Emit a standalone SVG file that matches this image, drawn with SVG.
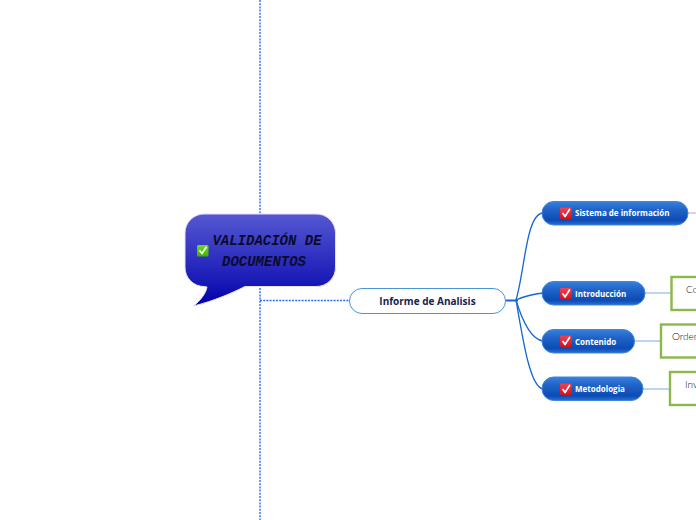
<svg xmlns="http://www.w3.org/2000/svg" width="696" height="520" viewBox="0 0 696 520">
<style>
.dot{fill:none;stroke:#2a6af0;stroke-width:1.4;stroke-dasharray:2 1.2}
.br{fill:none;stroke:#1565d8;stroke-width:1.3}
.lf{fill:none;stroke:#a9c6f2;stroke-width:1.5}
.pill{fill:url(#blue);stroke:#3f86dc;stroke-width:1}
.t{font-family:"Open Sans","Noto Sans",sans-serif;font-weight:700;font-size:8px;fill:#fff}
.box{fill:#fff;stroke:#8cb84a;stroke-width:2.4}
.s{font-family:"Lato","Open Sans",sans-serif;font-weight:300;font-size:10px;fill:#111}
.red{fill:url(#red)}
.tick{fill:none;stroke:#fff;stroke-width:1.7;stroke-linecap:round;stroke-linejoin:round}
</style>
<defs>
<linearGradient id="blue" x1="0" y1="0" x2="0" y2="1"><stop offset="0" stop-color="#3a80dc"/><stop offset=".35" stop-color="#1f63c8"/><stop offset=".8" stop-color="#0c4cb4"/><stop offset="1" stop-color="#2a70d2"/></linearGradient>
<linearGradient id="pur" x1="0" y1="0" x2="0" y2="1"><stop offset="0" stop-color="#5558d2"/><stop offset=".75" stop-color="#1818b6"/><stop offset="1" stop-color="#0000a6"/></linearGradient>
<linearGradient id="red" x1="0" y1="0" x2="0" y2="1"><stop offset="0" stop-color="#f2434f"/><stop offset="1" stop-color="#d3101c"/></linearGradient>
<linearGradient id="grn" x1="0" y1="0" x2="0" y2="1"><stop offset="0" stop-color="#6fdc1e"/><stop offset="1" stop-color="#3fae08"/></linearGradient>
</defs>
<g id="connectors">
<path class="dot" d="M260 0V520"/>
<path class="dot" d="M260 300.500H350"/>
<path d="M506 300.500H518" fill="none" stroke="#1565d8" stroke-width="2"/>
<path class="br" d="M516 300C525 270 526 214 543 213"/>
<path class="br" d="M516 300C525 296 532 294 543 293"/>
<path class="br" d="M516 300C522 320 530 339 543 341"/>
<path class="br" d="M516 300C523 340 530 387 543 389"/>
<path d="M688 213H696" fill="none" stroke="#d9a6e6" stroke-width="1.2"/>
<path class="lf" d="M645 293H672"/>
<path class="lf" d="M635 341H661"/>
<path class="lf" d="M643 389H670"/>
</g>
<g id="central">
<path d="M204 214H316A19 19 0 0 1 335.500 233.500V267A19 19 0 0 1 316 286.500H245C232 293 214 301 193.500 306C201 300 206 293 207 287L204 286.500A19 19 0 0 1 185 267V233.500A19 19 0 0 1 204 214Z" fill="url(#pur)" stroke="#e4e0ee" stroke-width="1"/>
<rect x="197" y="245" width="11.500" height="11.500" rx="1.500" fill="url(#grn)"/>
<path class="tick" d="M200 251L202 253.500L206 247.500"/>
<text x="267" y="245" text-anchor="middle" font-family="'Liberation Mono',monospace" font-weight="700" font-style="italic" font-size="14" fill="#0b0b2e">VALIDACIÓN DE</text>
<text x="264" y="266" text-anchor="middle" font-family="'Liberation Mono',monospace" font-weight="700" font-style="italic" font-size="14" fill="#0b0b2e">DOCUMENTOS</text>
</g>
<g id="informe">
<rect x="349.500" y="288.500" width="156" height="25" rx="12.500" fill="#fff" stroke="#4a95d8" stroke-width="1"/>
<text x="427.500" y="305" text-anchor="middle" font-family="'Open Sans','Noto Sans',sans-serif" font-weight="700" font-size="10" fill="#16244f">Informe de Analisis</text>
</g>
<g id="sistema">
<rect x="542" y="201.500" width="146" height="23.500" rx="11.700" class="pill"/>
<rect x="560" y="207.500" width="11.500" height="11.500" rx="1.500" class="red"/>
<path class="tick" d="M563 213.500L565 216.500L569.500 209.500"/>
<text x="575" y="216" class="t">Sistema de información</text>
</g>
<g id="introduccion">
<rect x="542" y="281.500" width="103" height="23.500" rx="11.700" class="pill"/>
<rect x="560" y="288" width="11.500" height="11.500" rx="1.500" class="red"/>
<path class="tick" d="M563 294L565 297L569.500 290"/>
<text x="575" y="297" class="t">Introducción</text>
</g>
<g id="contenido">
<rect x="542" y="329.500" width="92.500" height="23.500" rx="11.700" class="pill"/>
<rect x="560" y="335.500" width="11.500" height="11.500" rx="1.500" class="red"/>
<path class="tick" d="M563 341.500L565 344.500L569.500 337.500"/>
<text x="575" y="344.500" class="t">Contenido</text>
</g>
<g id="metodologia">
<rect x="542" y="377" width="101" height="23.500" rx="11.700" class="pill"/>
<rect x="560" y="383.500" width="11.500" height="11.500" rx="1.500" class="red"/>
<path class="tick" d="M563 389.500L565 392.500L569.500 385.500"/>
<text x="575" y="392" class="t">Metodologia</text>
</g>
<g id="leaf-co">
<rect x="671.500" y="277" width="40" height="33" class="box"/>
<text x="686" y="293" class="s">Co</text>
</g>
<g id="leaf-orden">
<rect x="661" y="324.500" width="50" height="33" class="box"/>
<text x="672" y="340" class="s">Orden</text>
</g>
<g id="leaf-inv">
<rect x="670" y="372" width="40" height="33" class="box"/>
<text x="685" y="388" class="s">Inv</text>
</g>
</svg>
